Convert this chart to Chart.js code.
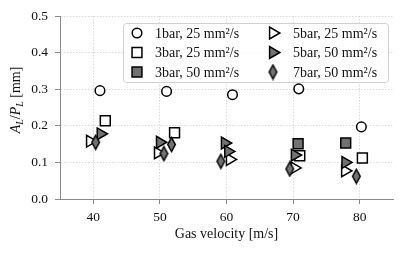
<!DOCTYPE html>
<html>
<head>
<meta charset="utf-8">
<script src="https://cdn.jsdelivr.net/npm/chart.js@4/dist/chart.umd.min.js"></script>
<style>
    html, body { margin: 0; padding: 0; background: #ffffff; }
    canvas { display: block; }
</style>
</head>
<body>
<canvas id="grafico" width="411" height="254"></canvas>
<script>
// Eixos
const X_TICKS = [40, 50, 60, 70, 80];
const Y_TICKS = [0.0, 0.1, 0.2, 0.3, 0.4, 0.5];

// Séries: velocidade do gás [m/s] e A_L/P_L [mm]
const LABELS = ["1bar, 25 mm²/s", "3bar, 25 mm²/s", "3bar, 50 mm²/s",
                "5bar, 25 mm²/s", "5bar, 50 mm²/s", "7bar, 50 mm²/s"];

const vel1bar25 = [41.0, 51.0, 60.9, 70.85, 80.25];
const alp1bar25 = [0.296, 0.294, 0.285, 0.301, 0.197];

const vel3bar25 = [41.8, 52.2, 71.0, 80.4];
const alp3bar25 = [0.214, 0.181, 0.118, 0.112];

const vel3bar50 = [70.75, 77.9];
const alp3bar50 = [0.151, 0.153];

const vel5bar25 = [39.5, 49.7, 60.5, 70.2, 77.8];
const alp5bar25 = [0.158, 0.126, 0.108, 0.085, 0.077];

const vel5bar50 = [41.1, 50.0, 59.75, 60.25, 70.25, 77.85];
const alp5bar50 = [0.178, 0.155, 0.153, 0.130, 0.120, 0.100];

const vel7bar50 = [40.35, 50.6, 51.75, 59.15, 69.5, 79.5];
const alp7bar50 = [0.155, 0.124, 0.149, 0.103, 0.082, 0.062];

const CINZA = "#727272";
const FONTE = "'Liberation Serif', serif";

function pontos(xs, ys) {
    return xs.map((x, i) => ({ x: x, y: ys[i] }));
}

// Diamante fino (marcador 'd' do matplotlib)
function criarDiamante() {
    const c = document.createElement("canvas");
    c.width = 11;
    c.height = 17;
    const g = c.getContext("2d");
    g.beginPath();
    g.moveTo(5.5, 1.5);
    g.lineTo(9.3, 8.5);
    g.lineTo(5.5, 15.5);
    g.lineTo(1.7, 8.5);
    g.closePath();
    g.fillStyle = CINZA;
    g.fill();
    g.lineWidth = 1.5;
    g.strokeStyle = "#000";
    g.lineJoin = "miter";
    g.stroke();
    return c;
}
const diamante = criarDiamante();

const estilos = [
    { pointStyle: "circle",   radius: 4.8, rotation: 0,  fill: "#ffffff" },
    { pointStyle: "rect",     radius: 7.0, rotation: 0,  fill: "#ffffff" },
    { pointStyle: "rect",     radius: 7.0, rotation: 0,  fill: CINZA },
    { pointStyle: "triangle", radius: 6.8, rotation: 90, fill: "#ffffff" },
    { pointStyle: "triangle", radius: 6.8, rotation: 90, fill: CINZA },
    { pointStyle: diamante,   radius: 7.0, rotation: 0,  fill: CINZA }
];

const series = [
    pontos(vel1bar25, alp1bar25),
    pontos(vel3bar25, alp3bar25),
    pontos(vel3bar50, alp3bar50),
    pontos(vel5bar25, alp5bar25),
    pontos(vel5bar50, alp5bar50),
    pontos(vel7bar50, alp7bar50)
];

const datasets = series.map((dados, i) => ({
    label: LABELS[i],
    data: dados,
    pointStyle: estilos[i].pointStyle,
    pointRadius: estilos[i].radius,
    pointRotation: estilos[i].rotation,
    pointBackgroundColor: estilos[i].fill,
    pointBorderColor: "#000000",
    pointBorderWidth: 1.5,
    order: series.length - i // o último fica por cima, como no matplotlib
}));

// Legenda em duas colunas dentro da área do gráfico
const legendaPlugin = {
    id: "legendaDentro",
    afterDatasetsDraw(chart) {
        const ctx = chart.ctx;
        const x0 = 123, y0 = 23, w = 265, h = 59;
        ctx.save();
        ctx.beginPath();
        ctx.roundRect(x0 + 0.5, y0 + 0.5, w, h, 3);
        ctx.fillStyle = "rgba(255,255,255,0.85)";
        ctx.fill();
        ctx.strokeStyle = "#d0d0d0";
        ctx.lineWidth = 1;
        ctx.stroke();

        const linhas = [33, 52.5, 72];
        const colMarca = [137, 273];
        const colTexto = [155, 293];
        ctx.font = "14px " + FONTE;
        ctx.textBaseline = "middle";
        ctx.textAlign = "left";
        for (let i = 0; i < LABELS.length; i++) {
            const col = Math.floor(i / 3);
            const lin = i % 3;
            ctx.fillStyle = estilos[i].fill;
            ctx.strokeStyle = "#000";
            ctx.lineWidth = 1.5;
            Chart.helpers.drawPoint(ctx, {
                pointStyle: estilos[i].pointStyle,
                rotation: estilos[i].rotation,
                radius: estilos[i].radius,
                borderWidth: 1.5
            }, colMarca[col], linhas[lin]);
            ctx.fillStyle = "#111";
            ctx.fillText(LABELS[i], colTexto[col], linhas[lin] + 1);
        }
        ctx.restore();
    }
};

// Título do eixo y com subscritos: A_L/P_L [mm]
const tituloYPlugin = {
    id: "tituloY",
    afterDraw(chart) {
        const ctx = chart.ctx;
        const partes = [
            { t: "A", f: "italic 14px " + FONTE, dy: 0 },
            { t: "L", f: "italic 10px " + FONTE, dy: 3 },
            { t: "/", f: "14px " + FONTE, dy: 0 },
            { t: "P", f: "italic 14px " + FONTE, dy: 0 },
            { t: "L", f: "italic 10px " + FONTE, dy: 3 },
            { t: " [mm]", f: "14px " + FONTE, dy: 0 }
        ];
        ctx.save();
        let total = 0;
        partes.forEach(p => {
            ctx.font = p.f;
            p.w = ctx.measureText(p.t).width;
            total += p.w;
        });
        ctx.translate(20, 100);
        ctx.rotate(-Math.PI / 2);
        ctx.fillStyle = "#111";
        ctx.textBaseline = "alphabetic";
        ctx.textAlign = "left";
        let x = -total / 2;
        partes.forEach(p => {
            ctx.font = p.f;
            ctx.fillText(p.t, x, p.dy);
            x += p.w;
        });
        ctx.restore();
    }
};

const ctx = document.getElementById("grafico").getContext("2d");

new Chart(ctx, {
    type: "scatter",
    data: { datasets: datasets },
    options: {
        responsive: false,
        devicePixelRatio: 1,
        animation: false,
        events: [],
        layout: { padding: { left: 0, right: 18, top: 16, bottom: 0 } },
        plugins: {
            legend: { display: false },
            tooltip: { enabled: false }
        },
        scales: {
            x: {
                type: "linear",
                min: 35,
                max: 85,
                afterBuildTicks: s => { s.ticks = X_TICKS.map(v => ({ value: v })); },
                afterFit: s => { s.height = 55; },
                grid: {
                    color: "#d0d0d0",
                    lineWidth: 0.8,
                    drawTicks: true,
                    tickLength: 5,
                    tickColor: "#8a8a8a",
                    tickWidth: 1,
                    tickBorderDash: []
                },
                border: { display: true, color: "#8a8a8a", width: 1, dash: [1.5, 1.5] },
                ticks: {
                    padding: 5,
                    color: "#111",
                    font: { family: FONTE, size: 13.5 },
                    maxRotation: 0,
                    callback: v => String(v)
                },
                title: {
                    display: true,
                    text: "Gas velocity [m/s]",
                    color: "#111",
                    font: { family: FONTE, size: 14 },
                    padding: { top: 0, bottom: 11 }
                }
            },
            y: {
                type: "linear",
                min: 0,
                max: 0.5,
                afterBuildTicks: s => { s.ticks = Y_TICKS.map(v => ({ value: v })); },
                afterFit: s => { s.width = 60; },
                grid: {
                    color: "#d0d0d0",
                    lineWidth: 0.8,
                    drawTicks: true,
                    tickLength: 5,
                    tickColor: "#8a8a8a",
                    tickWidth: 1,
                    tickBorderDash: []
                },
                border: { display: true, color: "#8a8a8a", width: 1, dash: [1.5, 1.5] },
                ticks: {
                    padding: 7,
                    color: "#111",
                    font: { family: FONTE, size: 13.5 },
                    callback: v => v.toFixed(1)
                }
            }
        }
    },
    plugins: [legendaPlugin, tituloYPlugin]
});
</script>
</body>
</html>
